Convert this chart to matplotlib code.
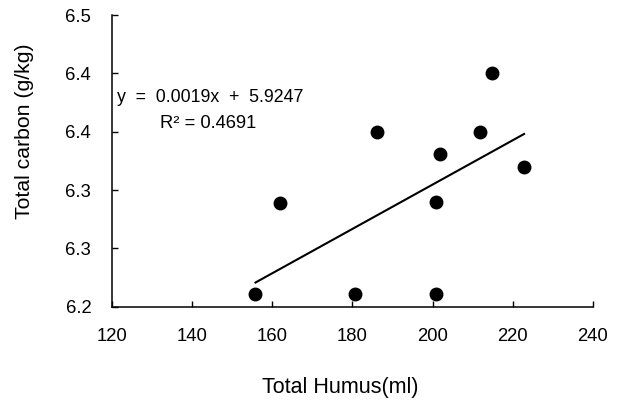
import matplotlib
matplotlib.use("Agg")
import matplotlib.pyplot as plt
import numpy as np

# Data
humus = [155.8, 161.9, 180.7, 186.0, 200.8, 200.8, 201.8, 211.8, 214.8, 222.8]
carbon = [6.2106, 6.2890, 6.2106, 6.3500, 6.2106, 6.2895, 6.3307, 6.3500, 6.4004, 6.3200]
slope = 0.0019
intercept = 5.9247
r2 = 0.4691
x_ticks = [120, 140, 160, 180, 200, 220, 240]
y_ticks = [6.2, 6.25, 6.3, 6.35, 6.4, 6.45]
y_tick_labels = ["6.2", "6.3", "6.3", "6.4", "6.4", "6.5"]

plt.rcParams['font.family'] = ['Liberation Sans', 'DejaVu Sans']

W, H = 619, 401
fig = plt.figure(figsize=(W / 100, H / 100), dpi=100)
ax = fig.add_axes([112 / W, 1 - 306.7 / H, (593 - 112) / W, (306.7 - 15) / H])

ax.plot(humus, carbon, 'o', color='black', markersize=9, zorder=3, clip_on=False)

xl = np.array([min(humus), max(humus)])
ax.plot(xl, slope * xl + intercept, color='black', linewidth=1.5)

ax.set_xlim(120, 240)
ax.set_ylim(6.2, 6.45)
ax.set_xticks(x_ticks)
ax.set_yticks(y_ticks)
ax.set_yticklabels(y_tick_labels)
ax.tick_params(direction='in', length=4, width=1, pad=15, labelsize=13.3, colors='black')
for s in ['top', 'right']:
    ax.spines[s].set_visible(False)
for s in ['left', 'bottom']:
    ax.spines[s].set_linewidth(1.1)

fig.text(117 / W, 1 - 101.7 / H, "y  =  %.4fx  +  %.4f" % (slope, intercept),
         ha='left', va='baseline', fontsize=12.8)
fig.text(160 / W, 1 - 128.3 / H, "R\u00b2 = %.4f" % r2,
         ha='left', va='baseline', fontsize=13.2)

fig.text(25 / W, 1 - 131.5 / H, "Total carbon (g/kg)", rotation=90,
         ha='center', va='center', fontsize=15.3)
fig.text(340.5 / W, 1 - 388 / H, "Total Humus(ml)",
         ha='center', va='center', fontsize=15.5)

fig.savefig("out.png", dpi=100, facecolor='white')
